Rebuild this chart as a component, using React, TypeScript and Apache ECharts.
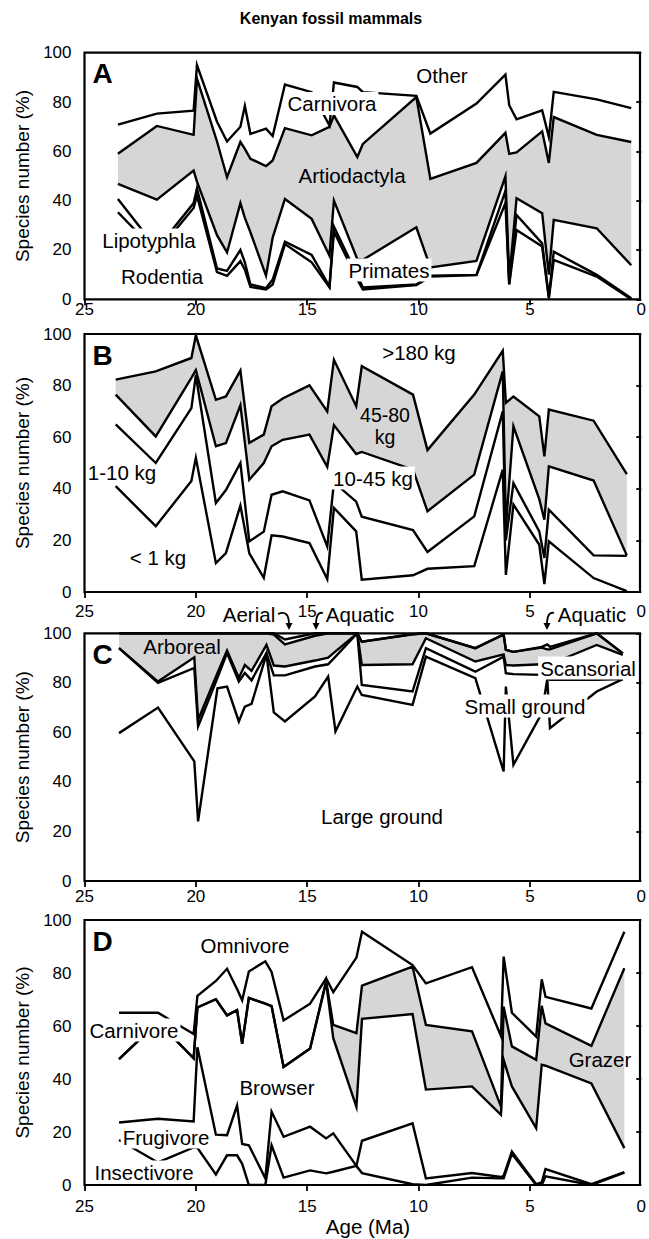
import React, { useEffect, useRef } from "react";
import * as echarts from "echarts";

const FONT = '"Liberation Sans", Arial, Helvetica, sans-serif';
const GRAY = "#d6d6d6";
const LABEL_SIZE = 20.5;

// x ticks (Ma) and y ticks (%)
const xTickValues = [25, 20, 15, 10, 5];
const yTickInterval = 20;

// ---- A: taxonomic groups, upper edge of each group (cumulative %) ----
const taxaAges = [23.5, 21.75, 20.1, 19.95, 19.05, 18.6, 18.0, 17.8, 17.55, 16.85, 16.55, 16.0, 14.8, 14.0, 13.8, 12.75, 12.5, 10.1, 9.47, 7.4, 6.1, 5.93, 5.6, 4.45, 4.15, 3.93, 2.0, 0.45];
const topRodentia = [35.3, 19, 37, 42, 11, 9.5, 15.5, 12, 5, 4, 6, 22.4, 15, 4.8, 27.5, 8, 4, 5.8, 9.2, 9.8, 39, 6, 28.1, 21.4, 0.4, 16, 9.2, 0];
const topLipotyphla = [40.7, 20.5, 39, 45, 12.5, 11.5, 20, 15, 6, 4.5, 8, 23.4, 18, 5.2, 29.5, 9.6, 4.8, 6, 9.6, 9.9, 44, 6.3, 34.2, 22.7, 1, 19.3, 9.9, 0.4];
const topPrimates = [46.8, 40.4, 52.2, 47.7, 26, 19, 39, 33, 27.2, 9.6, 25, 40.7, 32.6, 17.7, 40, 16.3, 16, 29.2, 12.9, 15.6, 49.9, 8, 41, 34.9, 10, 32.2, 28.8, 13.8];
const topArtiodactyla = [59, 70.3, 66.7, 89.5, 64, 49.5, 63.8, 61, 57, 54, 56.3, 69.4, 66.5, 69.9, 74.6, 57.7, 63, 82, 48.8, 55.3, 67.5, 59, 59.6, 68.1, 55.3, 73.9, 66.7, 63.8];
const topCarnivora = [70.8, 75.3, 76.5, 95, 72, 64, 70, 78.4, 67.1, 69.2, 66.2, 87.1, 84, 70.5, 87.9, 86.1, 84, 82.5, 67.2, 79.4, 91.1, 78.7, 73, 76.6, 65.8, 84.1, 81.1, 77.5];

// ---- B: body mass classes, upper edge of each class (cumulative %) ----
const massAges = [23.6, 21.8, 20.2, 20.0, 19.1, 18.65, 18.0, 17.6, 16.95, 16.6, 16.1, 14.9, 14.1, 13.8, 12.8, 12.55, 10.25, 9.6, 7.5, 6.22, 6.08, 5.74, 4.58, 4.35, 4.15, 2.14, 0.65];
const topUnder1kg = [41, 25.5, 43, 52, 11.2, 15.1, 33.5, 15, 5.5, 22, 21.5, 19, 5, 32.6, 23.5, 4.8, 6.5, 9, 10, 47.4, 6.6, 33.9, 18.3, 3.1, 19.6, 5.4, 0.3];
const top1to10kg = [65, 50, 71.3, 84, 34.5, 39.5, 50, 19.6, 23.4, 37.7, 39, 35.5, 17.7, 42.5, 35, 29.2, 24, 15.5, 29.3, 70, 20, 42.2, 23.5, 13.2, 31.9, 14.2, 14];
const top10to45kg = [76.5, 60.3, 83, 86, 56.5, 57.7, 72.4, 43.5, 50, 56.5, 59, 61, 48.5, 64.7, 53.5, 54.3, 47.4, 31.3, 45.5, 85.5, 25, 64.2, 36, 28, 48.7, 43.2, 14.2];
const top45to80kg = [82.3, 85.5, 90.7, 99.5, 74.5, 75.8, 85.8, 57.8, 61, 72, 75, 80.1, 70, 90, 72, 87.5, 76.5, 55, 76.5, 93.5, 73.3, 75.8, 68.1, 52.6, 70.7, 66.4, 45.7];

// ---- C: locomotor groups, upper edge of each group (cumulative %) ----
const locoAges = [23.45, 21.7, 20.07, 19.9, 19.03, 18.6, 18.07, 17.8, 17.5, 16.83, 16.5, 16.0, 14.65, 14.06, 13.73, 12.75, 12.55, 10.27, 9.67, 7.45, 6.18, 6.08, 5.74, 4.47, 4.22, 4.1, 2.0, 0.83];
const topLargeGround = [59.7, 70, 48.3, 24.1, 77.8, 78.5, 64.4, 70.4, 71.5, 91.5, 68.1, 64.4, 74.5, 82.5, 60.4, 78.5, 75.1, 71.1, 90.6, 81.9, 44.2, 78.5, 46.9, 67.7, 81.5, 61.7, 76.5, 81.5];
const topSmallGround = [94, 80, 86, 62.4, 82, 92, 80.5, 84, 81, 92, 83, 83, 86.6, 87.5, 90.6, 100, 79.2, 76.5, 94, 84.5, 90.6, 83.9, 83.5, 83.2, 82, 81.2, 81.2, 81.5];
const topScansorial = [94, 80.5, 90.3, 65, 84, 93, 82, 87.2, 84.8, 95.3, 87, 86.6, 89, 90.2, 92.7, 100, 87.2, 87.5, 98, 88.6, 91.5, 87.2, 87, 87.5, 87, 87.5, 95.3, 91.3];
const topArboreal = [100, 100, 100, 100, 100, 100, 100, 100, 100, 100, 99.5, 95.5, 99, 100, 100, 100, 96.6, 99.6, 100, 94, 99.5, 93.3, 92.5, 94.2, 93.5, 93.5, 100, 91.9];
const topAquatic = [100, 100, 100, 100, 100, 100, 100, 100, 100, 100, 100, 97.5, 100, 100, 100, 100, 96.6, 99.6, 100, 94, 99.5, 93.3, 92.5, 94.5, 95.5, 94.5, 100, 91.9];

// ---- D: dietary groups, upper edge of each group (cumulative %) ----
const dietAges = [23.45, 21.7, 20.1, 19.93, 19.1, 18.6, 18.15, 17.92, 17.62, 16.88, 16.6, 16.06, 14.87, 14.15, 13.83, 12.79, 12.54, 10.27, 9.67, 7.6, 6.3, 6.18, 5.81, 4.72, 4.47, 4.3, 2.24, 0.76];
const topInsectivore = [17, 8.5, 14.2, 14, 4, 11.2, 11.2, 8, 0, 0, 15, 2.8, 5.5, 4.4, 5, 7.2, 4.5, 0.3, 0, 2.8, 2.5, 2.5, 11.8, 0, 0, 3.3, 0, 4.7];
const topFrugivore = [23.6, 25, 24, 52, 19, 18.8, 30, 15.5, 15, 2.5, 27.7, 18.2, 22, 17.6, 19.5, 7.2, 16.7, 23.3, 2.5, 4.5, 3, 3.5, 12.6, 0.3, 1, 6, 0.3, 4.9];
const topBrowser = [47.5, 61.5, 47.8, 67, 70.1, 64, 66, 53.3, 70.6, 68.4, 67.5, 44.5, 51.5, 76.5, 55.4, 29.5, 62.7, 64.5, 36, 37.2, 26.5, 47.2, 37.2, 21.5, 45.4, 45, 38.3, 13.9];
const topGrazer = [47.5, 61.5, 47.8, 67, 70.1, 64, 66, 53.3, 70.6, 68.4, 67.5, 44.5, 51.5, 77, 60.4, 57.3, 75.2, 82.4, 60.4, 58, 29.6, 67.3, 52.3, 47.2, 67.6, 61, 52.5, 81.8];
const topCarnivore = [65, 65, 57, 71.4, 77, 81.6, 74, 69.7, 80.6, 84.4, 80.4, 62.1, 68.4, 78, 72.8, 85.8, 95.6, 83, 76.1, 82.2, 56.2, 86.2, 65, 56, 77.6, 71, 66.6, 95.6];

const PLOT_LEFT = 84.5;
const PLOT_WIDTH = 561; // 25 Ma .. 0 Ma
const FRAME_RIGHT = 640;

type Panel = {
  letter: string;
  top: number;
  height: number;
  ages: number[];
  lines: number[][];
  band: [number, number];
  labelMargin: number;
};

const panels: Panel[] = [
  { letter: "A", top: 52.7, height: 246.6, ages: taxaAges, lines: [topRodentia, topLipotyphla, topPrimates, topArtiodactyla, topCarnivora], band: [2, 3], labelMargin: 2 },
  { letter: "B", top: 334, height: 258, ages: massAges, lines: [topUnder1kg, top1to10kg, top10to45kg, top45to80kg], band: [2, 3], labelMargin: 11 },
  { letter: "C", top: 633.3, height: 247.7, ages: locoAges, lines: [topLargeGround, topSmallGround, topScansorial, topArboreal, topAquatic], band: [2, 3], labelMargin: 7 },
  { letter: "D", top: 920, height: 265, ages: dietAges, lines: [topInsectivore, topFrugivore, topBrowser, topGrazer, topCarnivore], band: [2, 3], labelMargin: 13 },
];

function text(t: string, x: number, y: number, extra: Record<string, unknown> = {}) {
  return {
    type: "text",
    x,
    y,
    z: 60,
    silent: true,
    style: {
      text: t,
      fontSize: LABEL_SIZE,
      fontFamily: FONT,
      fill: "#000",
      align: "center",
      verticalAlign: "middle",
      ...extra,
    },
  };
}

const boxed = { backgroundColor: "#fff", padding: [1, 2] };

function downArrow(x0: number, y0: number, cx: number, cy: number, x1: number, y1: number) {
  return [
    {
      type: "bezierCurve",
      z: 60,
      silent: true,
      shape: { x1: x0, y1: y0, cpx1: cx, cpy1: cy, x2: x1, y2: y1 },
      style: { stroke: "#000", lineWidth: 1.8, fill: "none" },
    },
    {
      type: "polygon",
      z: 60,
      silent: true,
      shape: { points: [[x1 - 3.5, y1 - 2], [x1 + 3.5, y1 - 2], [x1, y1 + 5]] },
      style: { fill: "#000" },
    },
  ];
}

function buildOption() {
  const grid: any[] = [];
  const xAxis: any[] = [];
  const yAxis: any[] = [];
  const series: any[] = [];
  const graphic: any[] = [];

  panels.forEach((p, i) => {
    grid.push({ left: PLOT_LEFT, top: p.top, width: PLOT_WIDTH, height: p.height, containLabel: false });
    xAxis.push({
      gridIndex: i,
      type: "value",
      min: 0,
      max: 25,
      interval: 5,
      inverse: true,
      axisLine: { show: false },
      axisTick: { show: true, customValues: xTickValues, length: 6, lineStyle: { color: "#000", width: 1.8 } },
      axisLabel: { fontSize: 17, color: "#000", fontFamily: FONT, margin: p.labelMargin },
      splitLine: { show: false },
    });
    yAxis.push({
      gridIndex: i,
      type: "value",
      min: 0,
      max: 100,
      interval: yTickInterval,
      axisLine: { show: false },
      axisTick: { show: true, length: 5, lineStyle: { color: "#000", width: 1.8 } },
      axisLabel: { fontSize: 17, color: "#000", fontFamily: FONT, margin: 13 },
      splitLine: { show: false },
    });

    // shaded group: polygon between two group edges, placed through the axes
    const [lo, hi] = p.band;
    const upper = p.lines[hi];
    const lower = p.lines[lo];
    const ages = p.ages;
    series.push({
      type: "custom",
      coordinateSystem: "cartesian2d",
      xAxisIndex: i,
      yAxisIndex: i,
      silent: true,
      z: 1,
      data: [[ages[0], lower[0]]],
      renderItem: (_params: any, api: any) => {
        const pts: number[][] = [];
        ages.forEach((a, k) => pts.push(api.coord([a, upper[k]])));
        for (let k = ages.length - 1; k >= 0; k--) pts.push(api.coord([ages[k], lower[k]]));
        return { type: "polygon", shape: { points: pts }, style: { fill: GRAY, stroke: "none" } };
      },
    });

    p.lines.forEach((line) => {
      series.push({
        type: "line",
        xAxisIndex: i,
        yAxisIndex: i,
        data: ages.map((a, k) => [a, line[k]]),
        symbol: "none",
        silent: true,
        lineStyle: { color: "#000", width: 2.4, join: "miter", miterLimit: 6 },
        z: 3,
      });
    });

    // plot frame
    graphic.push({
      type: "rect",
      z: 50,
      silent: true,
      shape: { x: PLOT_LEFT, y: p.top, width: FRAME_RIGHT - PLOT_LEFT, height: p.height },
      style: { fill: "none", stroke: "#000", lineWidth: 2.2 },
    });
    // panel letter
    graphic.push(text(p.letter, 102.5, p.top + 21, { fontSize: 28, fontWeight: "bold" }));
    // y-axis title
    graphic.push({
      type: "text",
      x: 22,
      y: p.top + p.height / 2,
      rotation: Math.PI / 2,
      z: 60,
      silent: true,
      style: { text: "Species number (%)", fontSize: 19, fontFamily: FONT, fill: "#000", align: "center", verticalAlign: "middle" },
    });
  });

  // title and x-axis title
  graphic.push(text("Kenyan fossil mammals", 331, 18, { fontSize: 16, fontWeight: "bold" }));
  graphic.push(text("Age (Ma)", 368, 1226));

  // A
  graphic.push(text("Other", 442, 75));
  graphic.push(text("Carnivora", 332, 103.5, boxed));
  graphic.push(text("Artiodactyla", 352, 175));
  graphic.push(text("Lipotyphla", 149, 240, boxed));
  graphic.push(text("Rodentia", 162, 276.5));
  graphic.push(text("Primates", 389, 270, boxed));

  // B
  graphic.push(text(">180 kg", 419, 352));
  graphic.push(text("45-80", 385, 414.5, { fontSize: 19.5, lineHeight: 19 }));
  graphic.push(text("kg", 385, 437, { fontSize: 19.5, lineHeight: 19 }));
  graphic.push(text("10-45 kg", 373, 478, boxed));
  graphic.push(text("1-10 kg", 122, 472));
  graphic.push(text("< 1 kg", 158, 557));

  // C
  graphic.push(text("Arboreal", 182, 646));
  graphic.push(text("Large ground", 382, 816));
  graphic.push(text("Small ground", 525, 706, boxed));
  graphic.push(text("Scansorial", 588, 668, boxed));
  graphic.push(text("Aerial", 249, 614));
  graphic.push(text("Aquatic", 360, 614));
  graphic.push(text("Aquatic", 592, 614));
  graphic.push(...downArrow(278, 614, 289, 609, 289, 625));
  graphic.push(...downArrow(323, 613, 316, 611, 316, 625));
  graphic.push(...downArrow(554, 613, 547, 611, 547, 625));

  // D
  graphic.push(text("Omnivore", 245, 945));
  graphic.push(text("Carnivore", 134, 1030, boxed));
  graphic.push(text("Browser", 277, 1087));
  graphic.push(text("Frugivore", 166, 1137, boxed));
  graphic.push(text("Insectivore", 144, 1172, boxed));
  graphic.push(text("Grazer", 600, 1059));

  return {
    animation: false,
    backgroundColor: "#fff",
    textStyle: { fontFamily: FONT },
    grid,
    xAxis,
    yAxis,
    series,
    graphic,
  };
}

export default function App() {
  const ref = useRef<HTMLDivElement>(null);

  useEffect(() => {
    if (!ref.current) return;
    const chart = echarts.init(ref.current, undefined, { renderer: "svg" });
    chart.setOption(buildOption() as any);
    return () => chart.dispose();
  }, []);

  return (
    <div
      ref={ref}
      style={{ position: "absolute", left: 0, top: 0, width: 649, height: 1239, background: "#fff" }}
    />
  );
}
